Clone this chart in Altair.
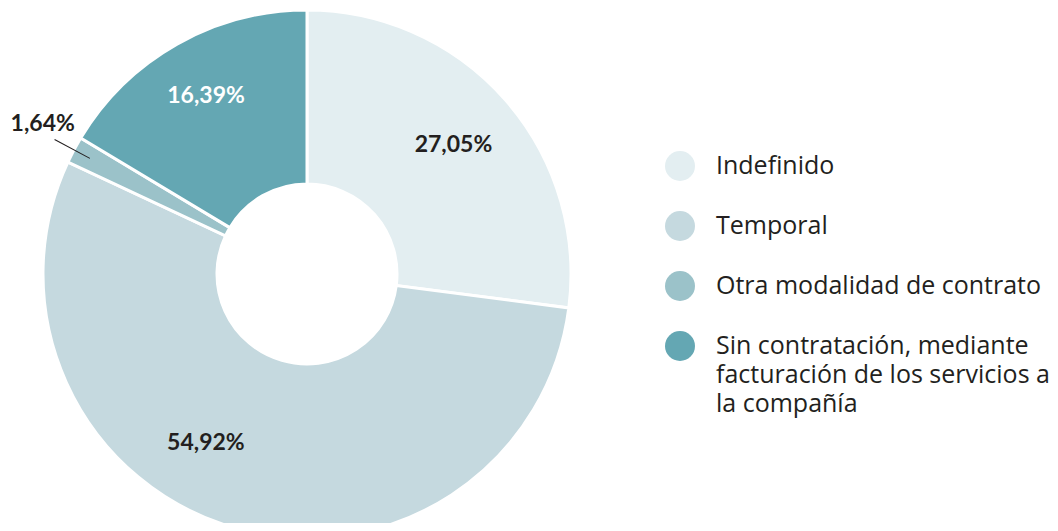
import altair as alt
import pandas as pd

# Data
legend_lines = [
    ["Indefinido"],
    ["Temporal"],
    ["Otra modalidad de contrato"],
    ["Sin contratación, mediante", "facturación de los servicios a", "la compañía"],
]
categories = [" ".join(lines) for lines in legend_lines]
values = [27.05, 54.92, 1.64, 16.39]
labels = ["27,05%", "54,92%", "1,64%", "16,39%"]
colors = ["#e3eef1", "#c5d9df", "#9bc2c9", "#64a7b3"]

df = pd.DataFrame({
    "categoria": categories,
    "valor": values,
    "etiqueta": labels,
    "orden": list(range(len(categories))),
})

CX, CY = 299, 266
DARK = "#231f20"
LABEL_FONT = "Lato"
LEGEND_FONT = "Open Sans"

# Legend label expression (multi-line for the long category)
expr_parts = []
for cat, lines in zip(categories, legend_lines):
    if len(lines) > 1:
        arr = "[" + ", ".join("'" + l + "'" for l in lines) + "]"
        expr_parts.append(f"datum.label == '{cat}' ? {arr} : ")
label_expr = "".join(expr_parts) + "datum.label"

base = (
    alt.Chart(df)
    .transform_window(acum="sum(valor)", sort=[alt.SortField("orden")], frame=[None, 0])
    .transform_joinaggregate(total="sum(valor)")
    .transform_calculate(
        ini="(datum.acum - datum.valor) / datum.total * 2 * PI",
        fin="datum.acum / datum.total * 2 * PI",
    )
    .transform_calculate(mid="(datum.ini + datum.fin) / 2")
)

color = alt.Color(
    "categoria:N",
    scale=alt.Scale(domain=categories, range=colors),
    legend=alt.Legend(
        title=None,
        orient="none",
        legendX=657,
        legendY=143,
        direction="vertical",
        symbolType="circle",
        symbolSize=900,
        symbolStrokeWidth=0,
        symbolOpacity=1,
        labelFont=LEGEND_FONT,
        labelFontSize=25,
        labelColor=DARK,
        labelOffset=21,
        labelLimit=0,
        rowPadding=30,
        padding=0,
        labelExpr=label_expr,
    ),
)

pos = dict(x=alt.value(CX), y=alt.value(CY))

arcs = base.mark_arc(outerRadius=264, innerRadius=90, stroke="white", strokeWidth=3).encode(
    theta=alt.Theta("ini:Q", scale=None, stack=None),
    theta2="fin:Q",
    color=color,
    order=alt.Order("orden:Q"),
    **pos,
)


def label(idx, radius, col, dx=0, dy=0):
    return (
        base.transform_filter(alt.datum.orden == idx)
        .mark_text(font=LABEL_FONT, fontWeight="bold", fontSize=23, color=col, dx=dx, dy=dy)
        .encode(
            theta=alt.Theta("mid:Q", scale=None, stack=None),
            radius=alt.value(radius),
            text="etiqueta:N",
            **pos,
        )
    )


t_indef = label(0, 195, DARK)
t_temp = label(1, 197, DARK, dx=-46, dy=-20)
t_otra = label(2, 304, DARK, dx=4, dy=-7)
t_sin = label(3, 205, "white")

leader = (
    base.transform_filter(alt.datum.orden == 2)
    .transform_calculate(a="datum.mid - 0.002", b="datum.mid + 0.002")
    .mark_arc(innerRadius=246, outerRadius=286, color=DARK)
    .encode(theta=alt.Theta("a:Q", scale=None, stack=None), theta2="b:Q", **pos)
)

chart = (
    alt.layer(arcs, leader, t_indef, t_temp, t_otra, t_sin)
    .properties(width=1042, height=515, autosize=alt.AutoSizeParams(type="none"), padding=0)
    .configure(style={"guide-label": {"lineHeight": 29}})
    .configure_view(stroke=None)
)

chart.save("out.html", embed_options={"renderer": "svg", "actions": False})
